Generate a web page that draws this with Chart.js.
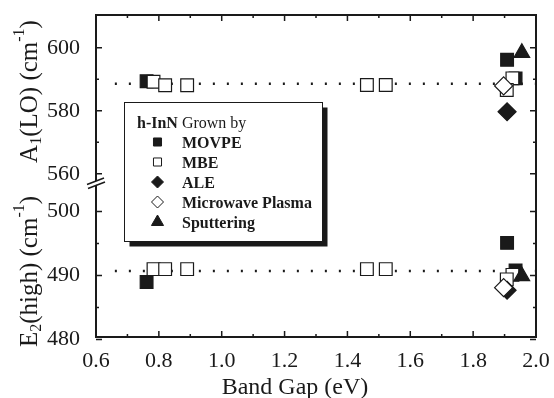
<!DOCTYPE html>
<html>
<head>
<meta charset="utf-8">
<script src="https://cdn.jsdelivr.net/npm/chart.js@4.4.0/dist/chart.umd.min.js"></script>
<style>
  html, body { margin: 0; padding: 0; background: #fff; }
</style>
</head>
<body>
<canvas id="gapChart" width="554" height="398"></canvas>
<script>
// band gap (eV) vs phonon frequency (cm-1), one set per growth method
const movpeGap = [0.761, 1.908, 1.935];
const movpeA1 = [589.4, 596.2, 590.3];
const movpeE2 = [489.0, 495.1, 490.8];

const mbeGap = [0.783, 0.820, 0.890, 1.462, 1.522, 1.925, 1.907];
const mbeA1 = [589.2, 588.1, 588.1, 588.2, 588.2, 590.3, 586.6];
const mbeE2 = [491.0, 491.0, 491.0, 491.0, 491.0, 490.1, 489.4];

const aleGap = [1.908];
const aleA1 = [579.7];
const aleE2 = [487.7];

const plasmaGap = [1.897];
const plasmaA1 = [587.9];
const plasmaE2 = [488.1];

const sputterGap = [1.955];
const sputterA1 = [598.4];
const sputterE2 = [489.9];

// dotted reference levels
const refGap = [0.66, 2.0];
const refA1 = [588.6, 588.6];
const refE2 = [490.7, 490.7];

// ticks
const xTicks = [0.6, 0.8, 1.0, 1.2, 1.4, 1.6, 1.8, 2.0];
const xMinor = [0.7, 0.9, 1.1, 1.3, 1.5, 1.7, 1.9];
const a1Ticks = [560, 580, 600];
const a1Minor = [570, 590];
const e2Ticks = [480, 490, 500];
const e2Minor = [485, 495];

const INK = '#1a1a1a';
const SERIF = '"Liberation Serif", "Times New Roman", serif';

const pts = (xs, ys) => xs.map((x, i) => ({ x: x, y: ys[i] }));

function series(label, xs, ys, axis, style, filled, order) {
    return {
        type: 'scatter',
        label: label,
        data: pts(xs, ys),
        yAxisID: axis,
        pointStyle: style,
        pointRadius: 9,
        pointHoverRadius: 9,
        pointBackgroundColor: filled ? INK : '#fff',
        pointBorderColor: INK,
        pointBorderWidth: 1.2,
        order: order
    };
}

function refLine(ys, axis) {
    return {
        type: 'line',
        data: pts(refGap, ys),
        yAxisID: axis,
        borderColor: INK,
        borderWidth: 2.4,
        borderDash: [2, 12],
        pointRadius: 0,
        order: 10
    };
}

// draw text made of pieces (sub/superscripts) centred on cx
function drawRich(ctx, parts, cx, baseY) {
    let total = 0;
    parts.forEach(p => {
        ctx.font = p.font;
        p.w = ctx.measureText(p.t).width;
        total += p.w;
    });
    let x = cx - total / 2;
    ctx.textAlign = 'left';
    ctx.textBaseline = 'alphabetic';
    parts.forEach(p => {
        ctx.font = p.font;
        ctx.fillText(p.t, x, baseY + (p.dy || 0));
        x += p.w;
    });
}

const big = '25px ' + SERIF;
const small = '16px ' + SERIF;

const decorPlugin = {
    id: 'decor',
    afterDraw(chart) {
        const { ctx, chartArea: a, scales } = chart;
        ctx.save();
        ctx.strokeStyle = INK;
        ctx.fillStyle = INK;

        // ticks pointing inward on all four sides
        ctx.lineWidth = 1.5;
        ctx.beginPath();
        const xt = (v, len) => {
            const px = scales.x.getPixelForValue(v);
            ctx.moveTo(px, a.bottom); ctx.lineTo(px, a.bottom - len);
            ctx.moveTo(px, a.top); ctx.lineTo(px, a.top + len);
        };
        const yt = (scale, v, len) => {
            const py = scale.getPixelForValue(v);
            ctx.moveTo(a.left, py); ctx.lineTo(a.left + len, py);
            ctx.moveTo(a.right, py); ctx.lineTo(a.right - len, py);
        };
        xTicks.forEach(v => xt(v, 6));
        xMinor.forEach(v => xt(v, 3));
        a1Ticks.forEach(v => yt(scales.ya, v, 6));
        a1Minor.forEach(v => yt(scales.ya, v, 3));
        e2Ticks.forEach(v => yt(scales.yb, v, 6));
        e2Minor.forEach(v => yt(scales.yb, v, 3));
        ctx.stroke();

        // frame
        ctx.lineWidth = 2;
        ctx.strokeRect(a.left, a.top, a.right - a.left, a.bottom - a.top);

        // axis break on the left
        const by = scales.ya.bottom;
        ctx.fillStyle = '#fff';
        ctx.beginPath();
        ctx.moveTo(88, by + 1); ctx.lineTo(104, by - 5);
        ctx.lineTo(104, by - 1); ctx.lineTo(88, by + 5);
        ctx.closePath();
        ctx.fill();
        ctx.lineWidth = 1.5;
        ctx.beginPath();
        ctx.moveTo(87, by + 1.5); ctx.lineTo(104, by - 5);
        ctx.moveTo(88, by + 5.5); ctx.lineTo(105, by - 1);
        ctx.stroke();

        // legend box with drop shadow
        const bx = 124.5, bt = 102.5, bw = 198, bh = 139;
        ctx.fillStyle = INK;
        ctx.fillRect(bx + 5, bt + 5, bw, bh);
        ctx.fillStyle = '#fff';
        ctx.fillRect(bx, bt, bw, bh);
        ctx.lineWidth = 1;
        ctx.strokeRect(bx, bt, bw, bh);

        ctx.fillStyle = INK;
        ctx.textAlign = 'left';
        ctx.textBaseline = 'alphabetic';
        ctx.font = 'bold 16px ' + SERIF;
        ctx.fillText('h-InN', 137, 128);
        const hw = ctx.measureText('h-InN ').width;
        ctx.font = '16px ' + SERIF;
        ctx.fillText('Grown by', 137 + hw, 128);

        const entries = [
            ['MOVPE', 'rect', 5.7, true],
            ['MBE', 'rect', 5.7, false],
            ['ALE', 'rectRot', 6, true],
            ['Microwave Plasma', 'rectRot', 6, false],
            ['Sputtering', 'triangle', 7, true]
        ];
        entries.forEach((e, i) => {
            const base = 147.5 + i * 20;
            ctx.fillStyle = e[3] ? INK : '#fff';
            ctx.strokeStyle = INK;
            ctx.lineWidth = 1;
            Chart.helpers.drawPoint(ctx, { pointStyle: e[1], radius: e[2], rotation: 0, borderWidth: 1 },
                157.5, base - 5.5);
            ctx.fillStyle = INK;
            ctx.font = 'bold 16px ' + SERIF;
            ctx.fillText(e[0], 182, base);
        });

        // axis titles
        ctx.fillStyle = INK;
        ctx.font = '24px ' + SERIF;
        ctx.textAlign = 'center';
        ctx.fillText('Band Gap (eV)', 295, 394);

        ctx.save();
        ctx.translate(37, 91.5);
        ctx.rotate(-Math.PI / 2);
        drawRich(ctx, [
            { t: 'A', font: big },
            { t: '1', font: small, dy: 4 },
            { t: '(LO) (cm', font: big },
            { t: '-1', font: small, dy: -13 },
            { t: ')', font: big }
        ], 0, 0);
        ctx.restore();

        ctx.save();
        ctx.translate(37, 271.5);
        ctx.rotate(-Math.PI / 2);
        drawRich(ctx, [
            { t: 'E', font: big },
            { t: '2', font: small, dy: 4 },
            { t: '(high) (cm', font: big },
            { t: '-1', font: small, dy: -13 },
            { t: ')', font: big }
        ], 0, 0);
        ctx.restore();

        ctx.restore();
    }
};

const tickFont = { family: SERIF, size: 22 };

// fix axis box sizes so the plot area sits where the original does
const fitY = s => { s.width = 96; s.paddingTop = 0; s.paddingBottom = 0; };
const fitX = s => { s.height = 61; s.paddingLeft = 0; s.paddingRight = 0; };

const ctx = document.getElementById('gapChart').getContext('2d');
const gapChart = new Chart(ctx, {
    type: 'scatter',
    data: {
        datasets: [
            refLine(refA1, 'ya'),
            refLine(refE2, 'yb'),
            series('MOVPE', movpeGap, movpeA1, 'ya', 'rect', true, 5),
            series('MOVPE', movpeGap, movpeE2, 'yb', 'rect', true, 5),
            series('MBE', mbeGap, mbeA1, 'ya', 'rect', false, 4),
            series('MBE', mbeGap, mbeE2, 'yb', 'rect', false, 4),
            series('ALE', aleGap, aleA1, 'ya', 'rectRot', true, 3),
            series('ALE', aleGap, aleE2, 'yb', 'rectRot', true, 3),
            series('Microwave Plasma', plasmaGap, plasmaA1, 'ya', 'rectRot', false, 2),
            series('Microwave Plasma', plasmaGap, plasmaE2, 'yb', 'rectRot', false, 2),
            series('Sputtering', sputterGap, sputterA1, 'ya', 'triangle', true, 1),
            series('Sputtering', sputterGap, sputterE2, 'yb', 'triangle', true, 1)
        ]
    },
    options: {
        responsive: false,
        animation: false,
        devicePixelRatio: 1,
        layout: {
            padding: { top: 15, right: 18, left: 0, bottom: 0 }
        },
        plugins: {
            legend: { display: false },
            tooltip: { enabled: false }
        },
        scales: {
            x: {
                type: 'linear',
                min: 0.6,
                max: 2.0,
                afterBuildTicks: s => { s.ticks = xTicks.map(v => ({ value: v })); },
                afterFit: fitX,
                grid: { display: false },
                border: { display: false },
                ticks: {
                    font: tickFont,
                    color: INK,
                    padding: 3,
                    maxRotation: 0,
                    callback: v => v.toFixed(1)
                }
            },
            ya: {
                type: 'linear',
                position: 'left',
                stack: 'band',
                stackWeight: 168,
                weight: 2,
                min: 557.1,
                max: 610.4,
                afterBuildTicks: s => { s.ticks = a1Ticks.map(v => ({ value: v })); },
                afterFit: fitY,
                grid: { display: false },
                border: { display: false },
                ticks: { font: tickFont, color: INK, padding: 8 }
            },
            yb: {
                type: 'linear',
                position: 'left',
                stack: 'band',
                stackWeight: 154,
                weight: 1,
                min: 480.4,
                max: 504.45,
                afterBuildTicks: s => { s.ticks = e2Ticks.map(v => ({ value: v })); },
                afterFit: fitY,
                grid: { display: false },
                border: { display: false },
                ticks: { font: tickFont, color: INK, padding: 8 }
            }
        }
    },
    plugins: [decorPlugin]
});
</script>
</body>
</html>
